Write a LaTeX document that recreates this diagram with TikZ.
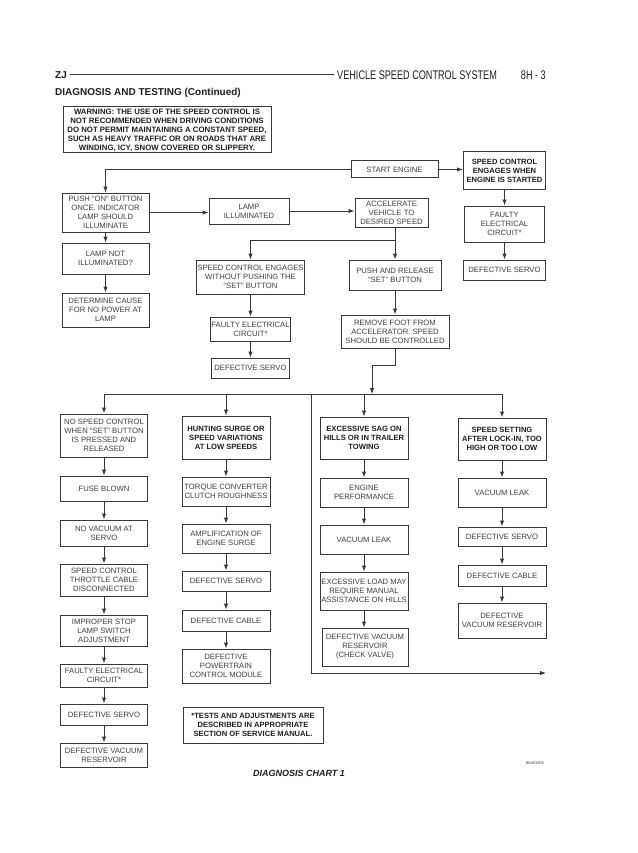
\documentclass[tikz,border=0pt]{standalone}
\usepackage{fontspec}
\setmainfont{Liberation Sans}
\newfontfamily\narrowf[FakeStretch=0.73]{Liberation Sans}
\usetikzlibrary{arrows.meta}
\definecolor{linec}{gray}{0.22}
\definecolor{txtc}{gray}{0.25}
\definecolor{btxtc}{gray}{0.12}
\newcommand{\bxf}{\fontsize{7.7}{9}\selectfont}
\newcommand{\bbf}{\fontsize{7.6}{9}\selectfont\bfseries}
\tikzset{
  bx/.style={draw=linec, line width=1pt, fill=white, align=center, font=\bxf, text=txtc, inner sep=0.5pt},
  bbx/.style={bx, font=\bbf, text=btxtc},
  arr/.style={draw=linec, line width=1pt, -{Latex[length=6pt,width=4.5pt]}},
  ln/.style={draw=linec, line width=1pt},
  lbl/.style={inner sep=0pt, text=btxtc}
}
\begin{document}
\begin{tikzpicture}[x=1pt,y=-1pt]
\useasboundingbox (0,0) rectangle (637,853);
\fill[white] (0,0) rectangle (637,853);
% header
\node[lbl, font=\bfseries\fontsize{10}{12}\selectfont, anchor=west] (zj) at (55,75) {ZJ};
\node[lbl, font=\narrowf\fontsize{12.5}{14}\selectfont, anchor=west] (title) at (337,75) {VEHICLE SPEED CONTROL SYSTEM};
\node[lbl, font=\narrowf\fontsize{12.5}{14}\selectfont, anchor=east] (pg) at (546,75) {8H - 3};
\draw[ln, line width=1pt] ([xshift=3pt]zj.east) -- ([xshift=-3pt]title.west);
\node[lbl, font=\bfseries\fontsize{10}{12}\selectfont, anchor=west] (dt) at (55,93) {DIAGNOSIS AND TESTING (Continued)};

% top section
\node[bbx, font=\fontsize{7.8}{9}\selectfont\bfseries, minimum width=208, minimum height=46] (warn) at (167,130) {WARNING: THE USE OF THE SPEED CONTROL IS\\NOT RECOMMENDED WHEN DRIVING CONDITIONS\\DO NOT PERMIT MAINTAINING A CONSTANT SPEED,\\SUCH AS HEAVY TRAFFIC OR ON ROADS THAT ARE\\WINDING, ICY, SNOW COVERED OR SLIPPERY.};
\node[bx, minimum width=87, minimum height=17] (start) at (394.5,169.5) {START ENGINE};
\node[bbx, minimum width=82, minimum height=37] (sce) at (504.5,170.5) {SPEED CONTROL\\ENGAGES WHEN\\ENGINE IS STARTED};
\node[bx, minimum width=80, minimum height=36] (fe1) at (504.5,224) {FAULTY\\ELECTRICAL\\CIRCUIT*};
\node[bx, minimum width=82, minimum height=20] (ds1) at (504.5,270) {DEFECTIVE SERVO};
\node[bx, minimum width=87, minimum height=39] (push) at (105.5,212.5) {PUSH “ON” BUTTON\\ONCE. INDICATOR\\LAMP SHOULD\\ILLUMINATE};
\node[bx, minimum width=80, minimum height=26] (lamp) at (249,211) {LAMP\\ILLUMINATED};
\node[bx, minimum width=73, minimum height=29] (accel) at (391.5,212.5) {ACCELERATE\\VEHICLE TO\\DESIRED SPEED};
\node[bx, minimum width=87, minimum height=31] (lni) at (105.5,258.5) {LAMP NOT\\ILLUMINATED?};
\node[bx, minimum width=87, minimum height=34] (det) at (105.5,310) {DETERMINE CAUSE\\FOR NO POWER AT\\LAMP};
\node[bx, minimum width=107, minimum height=34] (scw) at (250.5,277) {SPEED CONTROL ENGAGES\\WITHOUT PUSHING THE\\“SET” BUTTON};
\node[bx, minimum width=92, minimum height=30] (pr) at (395,275) {PUSH AND RELEASE\\“SET” BUTTON};
\node[bx, minimum width=78, minimum height=24] (fe2) at (250.5,329) {FAULTY ELECTRICAL\\CIRCUIT*};
\node[bx, minimum width=78, minimum height=20] (ds2) at (250.5,368) {DEFECTIVE SERVO};
\node[bx, minimum width=108, minimum height=33] (rf) at (395,331.5) {REMOVE FOOT FROM\\ACCELERATOR. SPEED\\SHOULD BE CONTROLLED};

% column 1
\node[bx, minimum width=87, minimum height=43] (nsc) at (104,435.5) {NO SPEED CONTROL\\WHEN “SET” BUTTON\\IS PRESSED AND\\RELEASED};
\node[bx, minimum width=87, minimum height=25] (fuse) at (104,488.5) {FUSE BLOWN};
\node[bx, minimum width=87, minimum height=26] (nov) at (104,533) {NO VACUUM AT\\SERVO};
\node[bx, minimum width=87, minimum height=32] (thr) at (104,580) {SPEED CONTROL\\THROTTLE CABLE\\DISCONNECTED};
\node[bx, minimum width=87, minimum height=31] (imp) at (104,630.5) {IMPROPER STOP\\LAMP SWITCH\\ADJUSTMENT};
\node[bx, minimum width=87, minimum height=23] (fe3) at (104,675.5) {FAULTY ELECTRICAL\\CIRCUIT*};
\node[bx, minimum width=87, minimum height=21] (ds3) at (104,714.5) {DEFECTIVE SERVO};
\node[bx, minimum width=87, minimum height=24] (dvr) at (104,755) {DEFECTIVE VACUUM\\RESERVOIR};

% column 2
\node[bbx, minimum width=88, minimum height=43] (hunt) at (226,437.5) {HUNTING SURGE OR\\SPEED VARIATIONS\\AT LOW SPEEDS};
\node[bx, minimum width=88, minimum height=29] (tcc) at (226,491.5) {TORQUE CONVERTER\\CLUTCH ROUGHNESS};
\node[bx, minimum width=88, minimum height=29] (amp) at (226,538.5) {AMPLIFICATION OF\\ENGINE SURGE};
\node[bx, minimum width=88, minimum height=20] (ds4) at (226,581) {DEFECTIVE SERVO};
\node[bx, minimum width=88, minimum height=21] (dc1) at (226,620.5) {DEFECTIVE CABLE};
\node[bx, minimum width=88, minimum height=34] (pcm) at (226,666) {DEFECTIVE\\POWERTRAIN\\CONTROL MODULE};
\node[bbx, minimum width=140, minimum height=36] (note) at (253,725) {*TESTS AND ADJUSTMENTS ARE\\DESCRIBED IN APPROPRIATE\\SECTION OF SERVICE MANUAL.};

% column 3
\node[bbx, minimum width=88, minimum height=42] (sag) at (364,438) {EXCESSIVE SAG ON\\HILLS OR IN TRAILER\\TOWING};
\node[bx, minimum width=88, minimum height=29] (eng) at (364,492.5) {ENGINE\\PERFORMANCE};
\node[bx, minimum width=88, minimum height=29] (vl1) at (364,539.5) {VACUUM LEAK};
\node[bx, minimum width=88, minimum height=38] (load) at (364,591) {EXCESSIVE LOAD MAY\\REQUIRE MANUAL\\ASSISTANCE ON HILLS};
\node[bx, minimum width=86, minimum height=38] (dvrc) at (365,647) {DEFECTIVE VACUUM\\RESERVOIR\\(CHECK VALVE)};

% column 4
\node[bbx, minimum width=88, minimum height=42] (sset) at (502,439) {SPEED SETTING\\AFTER LOCK-IN, TOO\\HIGH OR TOO LOW};
\node[bx, minimum width=88, minimum height=29] (vl2) at (502,492.5) {VACUUM LEAK};
\node[bx, minimum width=88, minimum height=19] (ds5) at (502,536.5) {DEFECTIVE SERVO};
\node[bx, minimum width=88, minimum height=21] (dc2) at (502,575.5) {DEFECTIVE CABLE};
\node[bx, minimum width=88, minimum height=35] (dvr2) at (502,620.5) {DEFECTIVE\\VACUUM RESERVOIR};

% captions
\node[lbl, font=\fontsize{9}{11}\selectfont\bfseries\itshape] (cap) at (299,773) {DIAGNOSIS CHART 1};
\node[lbl, text=txtc, font=\fontsize{4}{5}\selectfont] (code) at (535,763) {80a01306};

% connectors top
\draw[arr] (start.west) -| (push.north);
\draw[arr] (start.east) -- (start.east -| sce.west);
\draw[arr] (sce.south) -- (fe1.north);
\draw[arr] (fe1.south) -- (ds1.north);
\draw[arr] (push.east) -- (push.east -| lamp.west);
\draw[arr] (lamp.east) -- (lamp.east -| accel.west);
\draw[arr] (push.south) -- (lni.north);
\draw[arr] (lni.south) -- (det.north);
\coordinate (j1) at (395,240);
\draw[arr] (accel.south -| pr.north) -- (pr.north);
\draw[arr] (j1) -| (scw.north);
\draw[arr] (scw.south) -- (fe2.north);
\draw[arr] (fe2.south) -- (ds2.north);
\draw[arr] (pr.south) -- (rf.north);
% bus
\coordinate (busL) at (104,394);
\coordinate (busR) at (502,394);
\coordinate (k1) at (372,365);
\draw[arr] (rf.south) |- (k1) -- (k1 |- busL);
\draw[ln] (busL) -- (busR);
\draw[arr] (busL) -- (nsc.north);
\draw[arr] (hunt.north |- busL) -- (hunt.north);
\draw[arr] (sag.north |- busL) -- (sag.north);
\draw[arr] (busR) -- (sset.north);
\coordinate (v1) at (311,394);
\coordinate (v2) at (311,673);
\coordinate (v3) at (546,673);
\draw[arr] (v1) -- (v2) -- (v3);
% column chains
\draw[arr] (nsc) -- (fuse);
\draw[arr] (fuse) -- (nov);
\draw[arr] (nov) -- (thr);
\draw[arr] (thr) -- (imp);
\draw[arr] (imp) -- (fe3);
\draw[arr] (fe3) -- (ds3);
\draw[arr] (ds3) -- (dvr);
\draw[arr] (hunt) -- (tcc);
\draw[arr] (tcc) -- (amp);
\draw[arr] (amp) -- (ds4);
\draw[arr] (ds4) -- (dc1);
\draw[arr] (dc1) -- (pcm);
\draw[arr] (sag) -- (eng);
\draw[arr] (eng) -- (vl1);
\draw[arr] (vl1) -- (load);
\draw[arr] (load.south) -- (load.south |- dvrc.north);
\draw[arr] (sset) -- (vl2);
\draw[arr] (vl2) -- (ds5);
\draw[arr] (ds5) -- (dc2);
\draw[arr] (dc2) -- (dvr2);
\end{tikzpicture}
\end{document}
